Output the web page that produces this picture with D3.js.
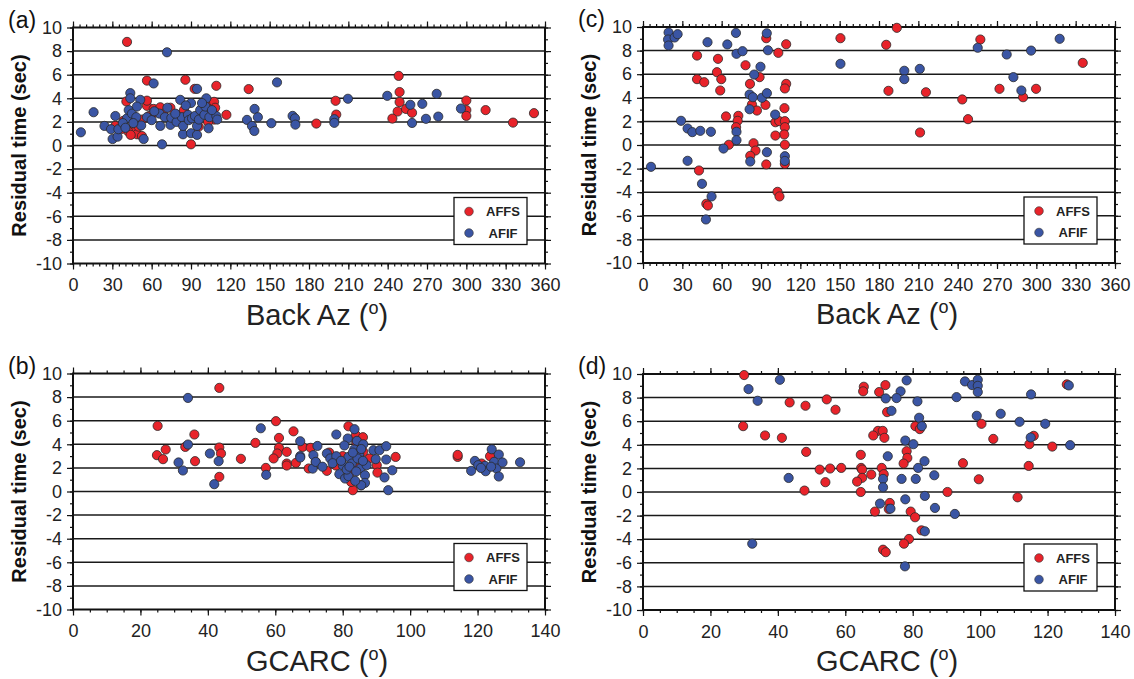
<!DOCTYPE html>
<html>
<head>
<meta charset="utf-8">
<title>Residual time vs Back Az and GCARC</title>
<script src="https://d3js.org/d3.v7.min.js"></script>
<style>
body { margin: 0; background: #fff; font-family: 'Liberation Sans', Arial, sans-serif; }
svg { display: block; }
</style>
</head>
<body>
<svg id="fig" width="1134" height="679"></svg>
<script>
// ---- data: [x, residual time (sec)] ----
var affsBaz = [[41.2,8.78],[56.4,5.5],[85.7,5.57],[92.8,4.8],[109.3,5.06],[90,0.1],[117,2.6],[134,4.78],
  [40.7,3.73],[43.7,2.5],[45,1.46],[47.5,1.2],[48.8,0.95],[52.6,0.8],[56.4,3.36],[56.4,3.8],[61.5,3.1],
  [66.6,3.24],[74.3,3.2],[79.5,2.6],[84.6,3.0],[95.9,1.6],[105,3.6],[107.6,3.7],[108.4,3.2],[107.6,2.2],
  [107.6,2.6],[38.6,2.1],[32.3,1.66],[45.4,2.1],[50,1.6],[53,2.2],[69,2.7],[76,2.3],[42,1.2],[44,0.9],
  [58,2.5],[63,2.8],[88,2.4],[100,3.0],[103,2.0],[37,1.4],
  [200.3,3.79],[200.8,2.62],[185.6,1.86],[248.4,5.9],[249.1,4.53],[249.1,3.68],[247.6,2.88],[243.6,2.28],
  [254,3.1],[258.6,2.77],[300,3.81],[300,3.0],[300,2.51],[314.7,3.0],[335.6,1.94],[351.6,2.74]];
var afifBaz = [[6,1.12],[15.7,2.82],[24,1.66],[29,1.38],[30.2,0.55],[34,0.75],[32.3,2.5],[34.6,1.38],
  [71.7,7.9],[61.5,5.26],[67.9,0.1],[43.7,4.44],[43.7,4.0],[51.3,3.87],[81.8,3.87],[83.9,0.95],[90,1.04],
  [94.6,0.9],[94.6,4.8],[90,3.6],[101.7,4.0],[103.4,1.46],[53.9,0.55],
  [41.2,2.3],[42.5,3.0],[45,2.7],[48.8,3.3],[48.3,2.4],[52,1.7],[56.4,2.4],[60,2.15],[66,2.7],[66.6,1.66],
  [70.1,2.4],[72,3.2],[74.3,1.75],[75,2.35],[79,2.0],[83,2.4],[84,1.66],[87.7,2.6],[88.3,2.15],[90.8,2.3],
  [93,2.5],[94.6,1.66],[96,2.2],[97,3.0],[100.2,2.6],[101,3.3],[98.4,3.6],[104,2.4],[109.3,2.5],[110,2.2],
  [38,1.9],[40,1.5],[46,1.9],[62,2.9],[78,2.7],[86,3.4],[106,3.0],
  [132.7,2.17],[136.5,1.66],[138.3,1.23],[138.5,3.1],[141,2.4],[151.3,1.89],[155.6,5.35],[167.5,2.51],
  [169.3,2.3],[169.6,1.77],[199.3,2.23],[199.3,1.92],[209.7,3.96],[239.7,4.21],[257.3,3.45],[258.6,1.91],
  [266.4,3.53],[269.2,2.26],[277.4,4.38],[278.6,2.45],[295.9,3.13]];

var affsDist = [[25.1,5.56],[24.9,3.08],[26.7,2.74],[27.5,3.56],[33.3,3.78],[36,4.83],[36.2,2.57],[43.4,8.78],
  [43.4,3.73],[43.9,3.22],[43.4,1.24],[49.8,2.77],[54.1,4.12],[57.2,2.0],[60.2,5.96],[61.1,4.54],[61.1,3.7],
  [60.6,3.22],[59.5,2.8],[63.4,3.36],[63.4,2.37],[63.4,2.2],[65.4,5.1],[66.1,2.42],[81.7,5.53],[83.9,4.77],
  [95.7,2.93],[114.1,2.93],[114.1,3.1],[123.7,2.99],[121.2,2.37],[83,0.11],[68.1,3.78],[70.5,3.7],[69.9,1.95],
  [75.3,1.75],[79.7,2.65],[86.1,3.36],[85.4,0.53],[82.5,0.81],[90.1,2.23],[90.3,1.6],[84,4.2],[80,3.0],
  [78,2.2],[88,2.8],[72,2.5],[82,1.5],[84.5,2.0],[86,4.6],[76,3.3]];
var afifDist = [[34.1,7.93],[34.1,3.98],[31.3,2.46],[32.6,1.78],[40.6,3.22],[43.2,2.57],[41.9,0.62],[55.7,5.36],
  [57.3,1.41],[67.4,4.26],[67.4,3.0],[67.4,2.88],[71.3,3.08],[72.5,3.86],[71.1,1.94],[72,2.51],[75.3,3.22],
  [76.3,2.8],[78.1,4.83],[78.1,2.99],[80,2.23],[79,1.47],[80.7,1.1],[81.7,1.3],[81.5,4.49],[83.5,5.28],
  [84.2,4.29],[86.1,4.0],[83.4,3.56],[84.9,3.16],[81.7,2.93],[82.7,2.37],[84.4,2.8],[85.2,1.95],[86.6,1.38],
  [86.6,0.73],[85.5,0.53],[87.1,2.23],[81.2,1.86],[89.1,3.5],[90.9,3.5],[89.8,2.74],[92.9,3.84],[92.9,2.71],
  [94.7,1.8],[92.4,1.19],[93.5,0.11],[119.2,2.59],[118.1,1.75],[120.2,2.23],[122.2,2.17],[122.4,1.72],
  [124.2,3.58],[126.3,3.13],[124.9,2.51],[125.6,1.95],[126.3,1.27],[127.4,2.46],[132.6,2.48],[80.5,3.9],
  [83,3.3],[85.5,3.6],[82,2.1],[84,1.7],[77,2.4],[74,2.1],[79.5,2.6],[83.7,0.9],[86,2.6],[121,2.0],[124,2.1]];

var affsBazC = [[41.2,7.58],[57.2,7.3],[56.4,6.17],[59.7,5.58],[41.2,5.58],[46.7,5.32],[58.9,4.62],[78.2,6.76],
  [81.6,5.18],[88.9,5.75],[83.1,3.43],[86.9,2.92],[93.4,3.4],[94,9.05],[103.2,7.81],[109.2,8.54],[109.2,5.18],
  [108.2,4.79],[107.9,3.12],[63.3,2.42],[72.7,2.47],[72.2,2.05],[71,1.51],[101,1.93],[103.9,2.02],[108.2,2.02],
  [108.2,1.51],[107.7,0.89],[101,0.8],[108.2,0.02],[65.5,0.02],[84.3,0.15],[85.8,-0.47],[81.8,-0.92],[94,-1.65],
  [108.2,-1.6],[42.7,-2.16],[48.3,-4.98],[49.5,-5.13],[102.6,-3.97],[104.1,-4.36],[150.6,9.05],[193.6,9.93],
  [185.5,8.49],[257.3,8.94],[335.4,6.96],[187.2,4.59],[215.8,4.47],[243.5,3.86],[271.9,4.76],[289.9,4.05],
  [299.8,4.76],[247.9,2.19],[211.3,1.06]];
var afifBazC = [[19.5,9.53],[19.1,8.94],[19.5,8.43],[24.1,9.11],[26.4,9.39],[49.2,8.71],[64.3,8.52],[70.9,9.5],
  [71.3,7.73],[75.9,7.95],[84.8,5.97],[89.6,6.63],[94.4,9.47],[95.3,8.03],[81.3,4.28],[83.8,4.05],[90.7,4.0],
  [94.5,4.39],[81.3,3.03],[100.8,2.58],[29,2.05],[34,1.4],[37.6,1.09],[43.7,1.2],[51.8,1.12],[71.3,1.12],
  [71.3,0.41],[61.4,-0.3],[94.5,-0.61],[108.2,-0.95],[108.2,-1.35],[34,-1.34],[6.1,-1.85],[81.8,-1.4],
  [45,-3.29],[52.3,-4.36],[48,-6.31],[150.6,6.88],[255.3,8.24],[317.8,9.0],[277.4,7.67],[296,8.0],[199.3,6.29],
  [199.3,5.58],[211.1,6.45],[282.5,5.75],[288.6,4.62]];

var affsDistD = [[30,9.91],[43.5,7.59],[48.2,7.31],[54.5,7.85],[57.1,6.97],[29.7,5.58],[36.2,4.79],[41.2,4.59],
  [48.4,3.4],[52.4,1.9],[55.5,1.99],[58.8,2.04],[54.1,0.83],[47.9,0.12],[65.5,8.92],[65.3,8.53],[71.9,9.06],
  [70.05,8.47],[125.7,9.12],[72.4,6.77],[100.4,5.78],[80.8,5.58],[82.1,5.33],[69.7,5.18],[71.1,5.18],[68.3,4.79],
  [71.6,4.59],[103.9,4.5],[115.9,4.76],[114.6,4.05],[121.4,3.85],[78.2,3.46],[78.4,2.89],[77.3,2.41],[64.6,3.15],
  [94.9,2.44],[114.4,2.21],[64.7,2.04],[65,1.9],[70.8,2.04],[71.4,1.51],[67.7,1.48],[65,1.2],[63.5,0.88],
  [99.6,1.08],[64.6,0.0],[90.3,0.0],[111.1,-0.45],[73.2,-0.93],[72.9,-1.44],[68.8,-1.66],[79.4,-1.66],
  [80.7,-2.14],[82.6,-3.25],[78.9,-3.98],[77.4,-4.38],[71.2,-4.89],[72,-5.1]];
var afifDistD = [[31.3,8.72],[34,7.73],[40.6,9.51],[43.2,1.19],[32.4,-4.38],[78.2,9.46],[76.4,8.53],[72,7.93],
  [75.2,7.96],[81.4,7.68],[93,8.04],[95.5,9.37],[97.6,9.06],[99.3,9.51],[99.3,9.0],[99.3,8.47],[115.1,8.27],
  [126.3,9.03],[73.7,6.88],[81.9,6.29],[99,6.46],[106.1,6.63],[111.7,5.95],[119.3,5.78],[82.7,5.58],[115,4.62],
  [126.7,3.97],[77.8,4.36],[80.2,4.05],[83.5,2.61],[81.6,2.04],[72.6,3.03],[71.2,1.11],[76.7,1.11],[80.9,1.11],
  [86.4,1.42],[71.2,0.4],[83.6,-0.33],[77.8,-0.62],[70.3,-0.98],[73.4,-1.41],[86.6,-1.35],[92.5,-1.86],
  [83.6,-3.33],[77.7,-6.3]];

var yTicks = [10, 8, 6, 4, 2, 0, -2, -4, -6, -8, -10];
var gridLines = [8, 6, 4, 2, 0, -2, -4, -6, -8];
var bazTicks = [0, 30, 60, 90, 120, 150, 180, 210, 240, 270, 300, 330, 360];
var distTicks = [0, 20, 40, 60, 80, 100, 120, 140];
var seriesNames = ["AFFS", "AFIF"];
var seriesColors = ["#e8232a", "#3a55a4"];

// ---- layout ----
var W = 472, H = 236;
var panels = [
  { tag: "(a)", left: 73,  top: 27.5, xmax: 360, xticks: bazTicks,  minor: 5, xlabel: "Back Az (", red: affsBaz,   blue: afifBaz },
  { tag: "(c)", left: 643, top: 27,   xmax: 360, xticks: bazTicks,  minor: 5, xlabel: "Back Az (", red: affsBazC,  blue: afifBazC },
  { tag: "(b)", left: 73,  top: 373.5, xmax: 140, xticks: distTicks, minor: 5, xlabel: "GCARC (",  red: affsDist,  blue: afifDist },
  { tag: "(d)", left: 643, top: 374,  xmax: 140, xticks: distTicks, minor: 5, xlabel: "GCARC (",  red: affsDistD, blue: afifDistD }
];

var svg = d3.select("#fig");
var fmt = function (d) { return String(d); };   // plain hyphen minus, like the original

panels.forEach(function (p) {
  var g = svg.append("g").attr("transform", "translate(" + p.left + "," + p.top + ")");
  var x = d3.scaleLinear().domain([0, p.xmax]).range([0, W]);
  var y = d3.scaleLinear().domain([-10, 10]).range([H, 0]);
  var minorX = d3.range(0, p.xmax + 0.01, p.minor);
  var minorY = d3.range(-10, 10.01, 1);

  // grid lines
  g.selectAll("line.grid").data(gridLines).enter().append("line")
    .attr("class", "grid")
    .attr("x1", 0).attr("x2", W)
    .attr("y1", function (d) { return y(d); })
    .attr("y2", function (d) { return y(d); })
    .attr("stroke", "#1a1a1a").attr("stroke-width", 1.5);

  // axes (major with labels, minor ticks only)
  function axis(gen, tx, ty, vals, size, labels, pad) {
    var a = g.append("g").attr("transform", "translate(" + tx + "," + ty + ")")
      .call(gen.tickValues(vals).tickSize(size).tickPadding(pad)
        .tickFormat(labels ? fmt : function () { return ""; }));
    a.select(".domain").remove();
    a.selectAll("line").attr("stroke", "#111").attr("stroke-width", 1.2);
    a.selectAll("text").attr("fill", "#222").style("font-size", "18px")
      .style("font-family", "'Liberation Sans', Arial, sans-serif");
    return a;
  }
  axis(d3.axisBottom(x), 0, H, p.xticks, 6, true, 9);
  axis(d3.axisBottom(x), 0, H, minorX, 3, false, 0);
  axis(d3.axisTop(x), 0, 0, p.xticks, 6, false, 0);
  axis(d3.axisTop(x), 0, 0, minorX, 3, false, 0);
  axis(d3.axisLeft(y), 0, 0, yTicks, 6, true, 5);
  axis(d3.axisLeft(y), 0, 0, minorY, 3, false, 0);
  axis(d3.axisRight(y), W, 0, yTicks, 6, false, 0);
  axis(d3.axisRight(y), W, 0, minorY, 3, false, 0);

  // frame
  g.append("rect").attr("width", W).attr("height", H)
    .attr("fill", "none").attr("stroke", "#111").attr("stroke-width", 2);

  // points: AFFS first, AFIF on top
  [p.red, p.blue].forEach(function (arr, i) {
    g.append("g").selectAll("circle").data(arr).enter().append("circle")
      .attr("cx", function (d) { return x(d[0]); })
      .attr("cy", function (d) { return y(d[1]); })
      .attr("r", 4.6)
      .attr("fill", seriesColors[i])
      .attr("stroke", "#2a2a2a").attr("stroke-width", 0.8);
  });

  // legend
  var lg = g.append("g").attr("transform", "translate(" + (W - 91) + "," + (H - 66) + ")");
  lg.append("rect").attr("width", 73).attr("height", 47)
    .attr("fill", "#fff").attr("stroke", "#111").attr("stroke-width", 1.3);
  seriesNames.forEach(function (name, i) {
    lg.append("circle").attr("cx", 15).attr("cy", 14 + i * 21.5).attr("r", 4.3)
      .attr("fill", seriesColors[i]).attr("stroke", "#333").attr("stroke-width", 0.6);
    lg.append("text").attr("x", 49).attr("y", 18.5 + i * 21.5)
      .attr("text-anchor", "middle").attr("font-weight", "bold").attr("font-size", 13)
      .attr("fill", "#222").text(name);
  });

  // y label
  g.append("text")
    .attr("transform", "translate(" + (-47) + "," + (H / 2) + ") rotate(-90)")
    .attr("text-anchor", "middle").attr("font-weight", "bold").attr("font-size", 20)
    .attr("fill", "#111").text("Residual time (sec)");

  // x label
  var xl = g.append("text").attr("x", W / 2 + 8).attr("y", H + 61)
    .attr("text-anchor", "middle").attr("font-size", 29).attr("fill", "#222");
  xl.append("tspan").text(p.xlabel);
  xl.append("tspan").attr("font-size", 18).attr("dy", -11).text("o");
  xl.append("tspan").attr("dy", 11).text(")");

  // panel tag
  g.append("text").attr("x", -65).attr("y", 0).attr("font-size", 23)
    .attr("fill", "#111").text(p.tag);
});
</script>
</body>
</html>
